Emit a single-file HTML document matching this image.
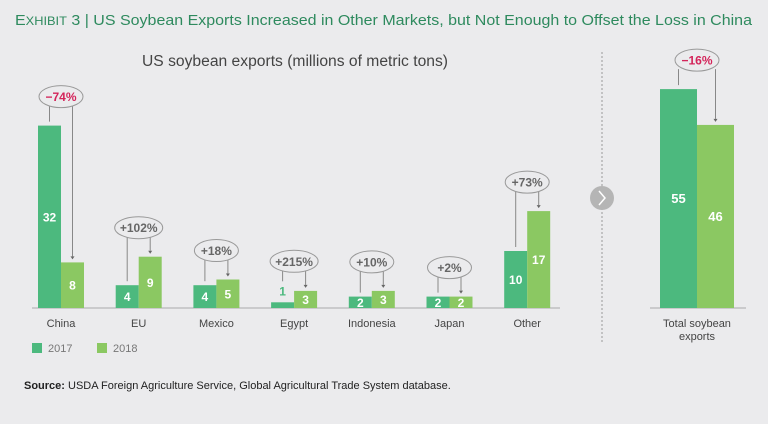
<!DOCTYPE html>
<html><head><meta charset="utf-8"><style>
html,body{margin:0;padding:0;background:#ebebed;}
svg{display:block;font-family:"Liberation Sans",sans-serif;}
</style></head><body>
<svg id="c" width="768" height="424" viewBox="0 0 768 424">
<rect width="768" height="424" fill="#ebebed"/>
<text x="15" y="25" font-size="15" fill="#2e8a5e" textLength="737" lengthAdjust="spacingAndGlyphs">E<tspan font-size="12">XHIBIT</tspan> 3 | US Soybean Exports Increased in Other Markets, but Not Enough to Offset the Loss in China</text>
<text x="142" y="66" font-size="15.5" fill="#444" textLength="306" lengthAdjust="spacingAndGlyphs">US soybean exports (millions of metric tons)</text>
<line x1="602" y1="52" x2="602" y2="343" stroke="#999" stroke-dasharray="2,2"/>
<circle cx="602" cy="198" r="12" fill="#b5b5b5"/>
<polyline points="599,191 605,198 599,205" fill="none" stroke="#fff" stroke-width="1.5"/>
<g id="bars"></g>
<rect x="32" y="343" width="10" height="10" fill="#4cb97e"/>
<text x="48" y="352" font-size="11" fill="#777">2017</text>
<rect x="97" y="343" width="10" height="10" fill="#8bc862"/>
<text x="113" y="352" font-size="11" fill="#777">2018</text>
<text x="24" y="389" font-size="11" fill="#222"><tspan font-weight="bold">Source:</tspan> USDA Foreign Agriculture Service, Global Agricultural Trade System database.</text>
</svg>
<script>
const categories=["China","EU","Mexico","Egypt","Indonesia","Japan","Other"];
const values2017=[32,4,4,1,2,2,10];
const values2018=[8,9,5,3,3,2,17];
const changeLabels=["−74%","+102%","+18%","+215%","+10%","+2%","+73%"];
const totalLabel=["Total soybean","exports"];
const total2017=[55];
const total2018=[46];
const totalChange=["−16%"];
const NS="http://www.w3.org/2000/svg";
const g=document.getElementById('bars');
function el(t,a,txt){const e=document.createElementNS(NS,t);for(const k in a)e.setAttribute(k,a[k]);if(txt!=null)e.textContent=txt;g.appendChild(e);return e;}
const base=308;
const yL=v=>base-v*5.7;
const xL=i=>61+i*77.7;
const yR=v=>base-v*3.98;
function group(cx,bw,v1,v2,y,lbl,chg,name,lblLines){
  const t1=y(v1),t2=y(v2);
  let r=el('rect',{x:cx-bw,y:t1,width:bw,height:base-t1,fill:'#4cb97e'});
  
  
  r=el('rect',{x:cx,y:t2,width:bw,height:base-t2,fill:'#8bc862'});
  
  
  const fs=bw>30?13:12;
  const small=(base-t1)<10;
  let t=el('text',{x:cx-bw/2,y:small?t1-7:(t1+base)/2+4.5,'font-size':fs,'font-weight':'bold',fill:small?'#4cb97e':'#fff','text-anchor':'middle'},v1);
  
  
  t=el('text',{x:cx+bw/2,y:(t2+base)/2+4.5,'font-size':fs,'font-weight':'bold',fill:'#fff','text-anchor':'middle'},v2);
  
  
  const ey=Math.min(t1,t2,small?t1-12:t1)-29;
  const neg=chg[0]==='−';
  const ew=chg.length>4?24:22;
  el('line',{x1:cx-bw/2,y1:small?t1-21:t1-4,x2:cx-bw/2,y2:ey+9,stroke:'#888','stroke-width':1});
  el('line',{x1:cx+bw/2,y1:ey+9,x2:cx+bw/2,y2:t2-6,stroke:'#888','stroke-width':1});
  el('polygon',{points:`${cx+bw/2-2},${t2-6} ${cx+bw/2+2},${t2-6} ${cx+bw/2},${t2-3}`,fill:'#666'});
  const e=el('ellipse',{cx:cx,cy:ey,rx:ew,ry:11,fill:'#ebebed',stroke:'#999'});
  
  
  t=el('text',{x:cx,y:ey+4.5,'font-size':12,'font-weight':'bold',fill:neg?'#d4245a':'#666','text-anchor':'middle'},chg);
  
  
  lblLines.forEach((s,k)=>{const l=el('text',{x:cx,y:base+19+k*13,'font-size':11,fill:'#444','text-anchor':'middle'},s);
    
    });
}
let ax=el('line',{x1:32,y1:base,x2:560,y2:base,stroke:'#aaa'});


categories.forEach((c,i)=>group(xL(i),23,values2017[i],values2018[i],yL,c,changeLabels[i],c.toLowerCase(),[c]));
ax=el('line',{x1:650,y1:base,x2:746,y2:base,stroke:'#aaa'});


group(697,37,total2017[0],total2018[0],yR,'Total',totalChange[0],'total',totalLabel);
</script>
</body></html>
